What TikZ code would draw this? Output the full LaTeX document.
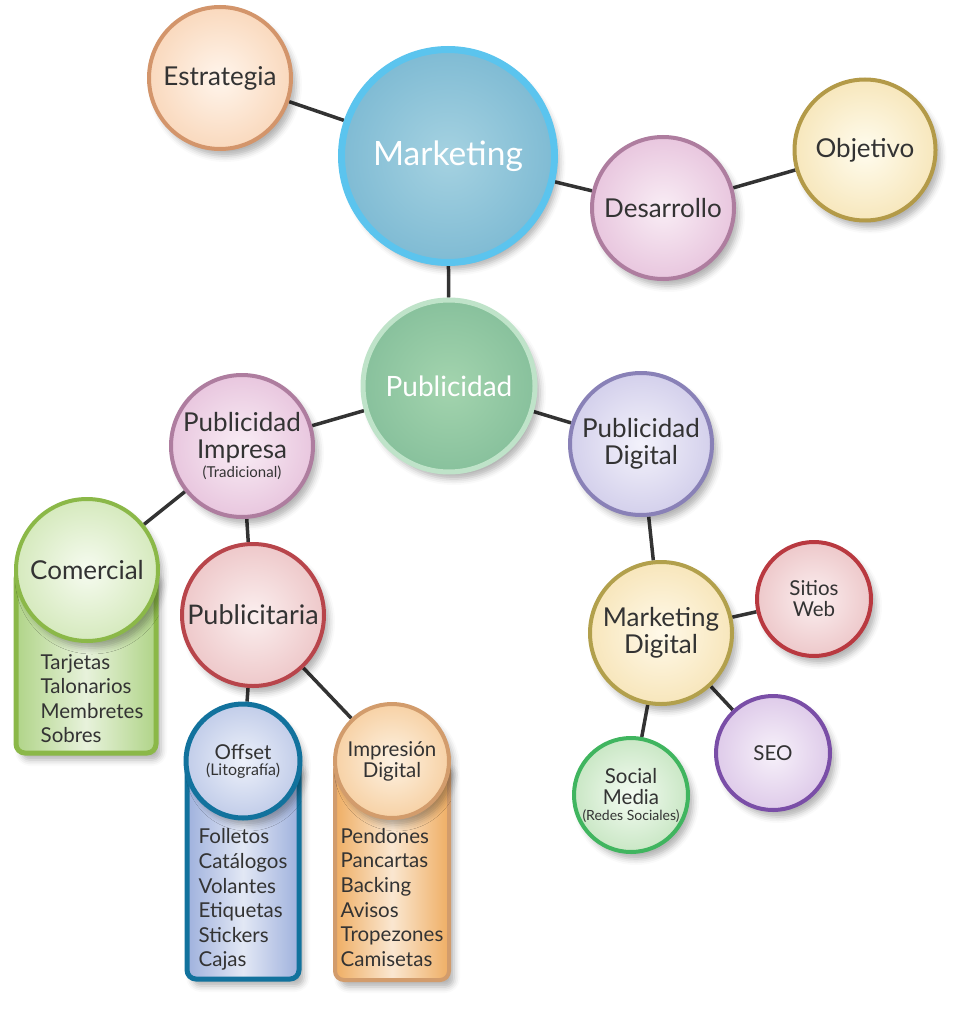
\documentclass[tikz,border=0pt]{standalone}
\usepackage{fontspec}
\setmainfont{Lato}
\usetikzlibrary{positioning,shadows.blur}

\definecolor{ink}{HTML}{333333}
\definecolor{mktB}{HTML}{5BC4EE}\definecolor{mktO}{HTML}{5AA4C6}\definecolor{mktI}{HTML}{A5D2E1}
\definecolor{estB}{HTML}{D3956B}\definecolor{estO}{HTML}{F4BD8F}\definecolor{estI}{HTML}{FFF5EC}
\definecolor{desB}{HTML}{AE7D9F}\definecolor{desO}{HTML}{D8A0C8}\definecolor{desI}{HTML}{F9EDF5}
\definecolor{objB}{HTML}{B39A48}\definecolor{objO}{HTML}{EFD28B}\definecolor{objI}{HTML}{FFFCEE}
\definecolor{pubB}{HTML}{BFE3C9}\definecolor{pubO}{HTML}{6DAE8B}\definecolor{pubI}{HTML}{A3D4AE}
\definecolor{digB}{HTML}{8981B7}\definecolor{digO}{HTML}{B4AEDC}\definecolor{digI}{HTML}{F3F2FB}
\definecolor{comB}{HTML}{8BB848}\definecolor{comO}{HTML}{B5D88B}\definecolor{comI}{HTML}{F6FBF0}
\definecolor{ptaB}{HTML}{B8454B}\definecolor{ptaO}{HTML}{E1A2A5}\definecolor{ptaI}{HTML}{FBEFEF}
\definecolor{offB}{HTML}{12729D}\definecolor{offO}{HTML}{96A8D8}\definecolor{offI}{HTML}{EDF1FA}
\definecolor{ipdB}{HTML}{D29C6C}\definecolor{ipdO}{HTML}{F1B169}\definecolor{ipdI}{HTML}{FDF2E2}
\definecolor{mdgB}{HTML}{B2A04C}\definecolor{mdgO}{HTML}{F0D38E}\definecolor{mdgI}{HTML}{FFF9E9}
\definecolor{webB}{HTML}{B93940}\definecolor{webO}{HTML}{E0A2A5}\definecolor{webI}{HTML}{FBEFF0}
\definecolor{seoB}{HTML}{7A4EA7}\definecolor{seoO}{HTML}{C6A5D9}\definecolor{seoI}{HTML}{F7F1FA}
\definecolor{socB}{HTML}{40B55F}\definecolor{socO}{HTML}{9FD398}\definecolor{socI}{HTML}{F4FBF2}
\definecolor{comP}{HTML}{B0D488}\definecolor{offP}{HTML}{9FB1DD}\definecolor{ipdP}{HTML}{EFAE64}

\colorlet{ballin}{white}
\colorlet{ballout}{gray}
\pgfdeclareradialshading[ballin,ballout]{glow}{\pgfpoint{0bp}{0bp}}{color(0bp)=(ballin); color(50bp)=(ballout)}

\pgfdeclarelayer{bg}
\pgfsetlayers{bg,main}

\begin{document}
\begin{tikzpicture}[x=1pt, y=-1pt, line join=round,
  shadowed/.style={blur shadow={shadow xshift=5pt, shadow yshift=-7pt,
    shadow blur radius=6pt, shadow opacity=30}},
  ball/.style n args={3}{circle, draw=#1, line width=4pt, inner sep=0pt,
    align=center, text=ink, font=\fontsize{26}{27}\selectfont,
    /utils/exec={\colorlet{ballout}{#2}\colorlet{ballin}{#3}},
    shade, shading=glow, shadowed},
  small/.style={font=\fontsize{20.5}{21}\selectfont, minimum size=114pt},
  link/.style={draw=ink, line width=3.5pt},
  tag/.style={align=left, text=ink, inner sep=0pt,
    font=\fontsize{20.5}{24.6}\selectfont},
  pad/.style 2 args={draw=#1, line width=5pt, rounded corners=9pt,
    left color=#2, right color=#2, middle color=#2!30!white, shadowed}]

  \useasboundingbox (0,0) rectangle (973,1024);

  % Top circles
  \node[ball={mktB}{mktO}{mktI}, line width=7pt, minimum size=213pt,
    text=white, font=\fontsize{33.5}{36}\selectfont] (mkt) at (448,156) {Marketing};
  \node[ball={estB}{estO}{estI}, minimum size=142pt] (est) at (220,78) {Estrategia};
  \node[ball={desB}{desO}{desI}, minimum size=142pt] (des) at (663,208) {Desarrollo};
  \node[ball={objB}{objO}{objI}, minimum size=141pt] (obj) at (865,150) {Objetivo};
  \node[ball={pubB}{pubO}{pubI}, line width=5pt, minimum size=172pt,
    text=white, font=\fontsize{28}{30}\selectfont] (pub) at (449,386) {Publicidad};

  % Left branch
  \node[ball={desB}{desO}{desI}, minimum size=142pt] (imp) at (242,446)
    {Publicidad\\Impresa\\[-8pt]{\fontsize{15}{16}\selectfont(Tradicional)}};
  \node[ball={comB}{comO}{comI}, minimum size=142pt] (com) at (87,570) {Comercial};
  \node[ball={ptaB}{ptaO}{ptaI}, minimum size=142pt,
    font=\fontsize{27}{28}\selectfont] (pta) at (253,615) {Publicitaria};
  \node[ball={offB}{offO}{offI}, small, line width=5pt] (off) at (243,761)
    {Offset\\[-5pt]{\fontsize{16}{17}\selectfont(Litografía)}};
  \node[ball={ipdB}{ipdO}{ipdI}, small] (ipd) at (392,761) {Impresión\\Digital};

  % Right branch
  \node[ball={digB}{digO}{digI}, minimum size=142pt] (dig) at (641,444) {Publicidad\\Digital};
  \node[ball={mdgB}{mdgO}{mdgI}, minimum size=142pt] (mdg) at (661,633) {Marketing\\Digital};
  \node[ball={webB}{webO}{webI}, small] (web) at (814,599) {Sitios\\Web};
  \node[ball={seoB}{seoO}{seoI}, small] (seo) at (773,753) {SEO};
  \node[ball={socB}{socO}{socI}, small] (soc) at (631,795)
    {Social\\Media\\[-5pt]{\fontsize{14}{15}\selectfont(Redes Sociales)}};

  % Lists
  \node[tag, below=11pt of com, xshift=5pt] (comlist) {Tarjetas\\Talonarios\\Membretes\\Sobres};
  \node[tag, below=8pt of off] (offlist)
    {Folletos\\Catálogos\\Volantes\\Etiquetas\\Stickers\\Cajas};
  \node[tag, below=8pt of ipd] (ipdlist)
    {Pendones\\Pancartas\\Backing\\Avisos\\Tropezones\\Camisetas};

  \begin{pgfonlayer}{bg}
    % Connectors
    \foreach \a/\b in {est/mkt, mkt/des, des/obj, mkt/pub, pub/imp, pub/dig,
      imp/com, imp/pta, pta/off, pta/ipd, dig/mdg, mdg/web, mdg/seo, mdg/soc}
      \draw[link] (\a) -- (\b);

    % Boxes under the circles
    \path[pad={comB}{comP}] (com.center) ++(-71,0) rectangle ++(140,183);
    \path[pad={offB}{offP}] (off.center) ++(-56,0) rectangle ++(112,218);
    \path[pad={ipdB}{ipdP}, line width=4pt] (ipd.center) ++(-57,0) rectangle ++(114,219);
  \end{pgfonlayer}

\end{tikzpicture}
\end{document}
